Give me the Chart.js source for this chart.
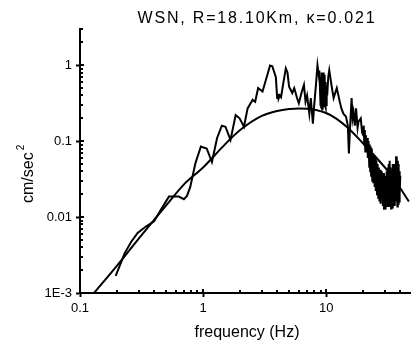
<!DOCTYPE html>
<html>
<head>
<meta charset="utf-8">
<script src="https://cdn.jsdelivr.net/npm/chart.js@4.4.1/dist/chart.umd.min.js"></script>
<style>
html, body { margin: 0; padding: 0; background: #fff; }
#wrap { width: 414px; height: 347px; }
</style>
</head>
<body>
<div id="wrap"><canvas id="myChart" width="414" height="347"></canvas></div>
<script>
const titleText = 'WSN, R=18.10Km, \u03ba=0.021';
const xTitle = 'frequency (Hz)';
const yTitle = 'cm/sec';

const xTickValues = [0.1, 1, 10];
const xTickLabels = ['0.1', '1', '10'];
const yTickValues = [0.001, 0.01, 0.1, 1];
const yTickLabels = ['1E-3', '0.01', '0.1', '1'];

// theoretical spectrum (smooth curve)
const modelFreq = [0.13, 0.2, 0.3, 0.4, 0.5, 0.7, 1, 1.5, 2, 3, 4, 5, 6, 7, 8, 10, 12, 15, 20, 25, 30, 40, 47];
const modelAmp = [0.001, 0.0023, 0.0052, 0.0092, 0.0142, 0.027, 0.045, 0.09, 0.14, 0.215, 0.25, 0.265, 0.27, 0.268, 0.26, 0.235, 0.2, 0.15, 0.093, 0.063, 0.045, 0.024, 0.016];

// observed spectrum
const obsFreq = [0.195, 0.23, 0.26, 0.294, 0.343, 0.4, 0.46, 0.528, 0.635, 0.698, 0.74, 0.787, 0.866, 0.96, 1.07, 1.18, 1.3, 1.42, 1.52, 1.67,
  1.84, 1.98, 2.15, 2.3, 2.53, 2.65, 2.8, 3.04, 3.3, 3.5, 3.65, 3.9, 4.0, 4.05, 4.1, 4.2, 4.3, 4.5, 4.7, 4.85,
  5.0, 5.3, 5.5, 5.8, 6.0, 6.3, 6.6, 6.8, 7.0, 7.3, 7.5, 7.8, 8.0, 8.3, 8.5, 8.7, 8.8,
  9.0, 9.05, 9.1, 9.15, 9.2, 9.25, 9.3, 9.35, 9.4, 9.45, 9.5, 9.55, 9.6, 9.65, 9.7, 9.75, 9.8, 9.85, 9.9, 9.95,
  10.0, 10.1, 10.2, 10.4, 10.6, 11.1, 11.5, 12.2, 12.9, 13.3, 13.8, 14.5, 15.0, 15.3, 15.6,
  16.1, 16.4, 16.7, 17.1, 17.5, 18.0, 18.3, 19.1, 19.6,
  20.0, 20.2, 20.4, 20.6, 20.8, 21.0, 21.3, 21.6, 21.8, 22.1, 22.4, 22.6, 22.8, 23.0, 23.2, 23.5, 23.7, 24.0, 24.2, 24.5,
  24.8, 25.0, 25.3, 25.6, 25.9, 26.2, 26.5, 26.8, 27.1, 27.4, 27.7, 28.0, 28.3, 28.6, 28.9, 29.2, 29.5, 29.8, 30.1, 30.4,
  30.7, 31.0, 31.3, 31.6, 31.9, 32.2, 32.5, 32.8, 33.1, 33.4, 33.7, 34.0, 34.3, 34.6, 34.9, 35.2, 35.5, 35.8, 36.1, 36.4,
  36.7, 37.0, 37.3, 37.6, 37.9, 38.2, 38.5, 38.8, 39.1, 39.4, 39.7, 40.0];
const obsAmp = [0.00168, 0.0033, 0.0047, 0.0062, 0.0075, 0.0088, 0.013, 0.0186, 0.0186, 0.0172, 0.019, 0.025, 0.051, 0.085, 0.08, 0.053, 0.11, 0.16, 0.155, 0.104,
  0.22, 0.2, 0.155, 0.27, 0.35, 0.33, 0.5, 0.45, 0.71, 0.99, 0.97, 0.7, 0.37, 0.42, 0.36, 0.4, 0.38, 0.6, 0.91, 0.8,
  0.52, 0.43, 0.5, 0.37, 0.315, 0.43, 0.55, 0.33, 0.4, 0.23, 0.37, 0.17, 0.3, 0.6, 1.0, 0.75, 0.85,
  0.3, 0.7, 0.28, 0.75, 0.27, 0.8, 0.3, 0.7, 0.26, 0.65, 0.3, 0.8, 0.28, 0.7, 0.32, 0.75, 0.3, 0.6, 0.28, 0.55,
  0.3, 0.5, 0.4, 0.7, 0.86, 0.52, 0.37, 0.5, 0.33, 0.27, 0.23, 0.21, 0.16, 0.069, 0.14,
  0.37, 0.2, 0.24, 0.16, 0.27, 0.15, 0.18, 0.2, 0.13,
  0.12, 0.16, 0.09, 0.14, 0.073, 0.12, 0.08, 0.11, 0.06, 0.1, 0.046, 0.09, 0.04, 0.085, 0.035, 0.08, 0.03, 0.07, 0.028, 0.065,
  0.025, 0.06, 0.022, 0.055, 0.02, 0.05, 0.018, 0.045, 0.016, 0.042, 0.015, 0.04, 0.018, 0.035, 0.014, 0.038, 0.0125, 0.03, 0.013, 0.035,
  0.018, 0.04, 0.014, 0.045, 0.016, 0.05, 0.014, 0.055, 0.015, 0.045, 0.013, 0.04, 0.016, 0.05, 0.013, 0.045, 0.015, 0.05, 0.014, 0.04,
  0.018, 0.063, 0.016, 0.05, 0.0138, 0.055, 0.015, 0.05, 0.016, 0.04, 0.02, 0.035];

const fontFamily = "'Liberation Sans', Arial, sans-serif";

function findLabel(v, values, labels) {
    for (let i = 0; i < values.length; i++) {
        if (Math.abs(Math.log10(v) - Math.log10(values[i])) < 1e-6) return labels[i];
    }
    return '';
}

function isNice(v) {
    let m = v / Math.pow(10, Math.floor(Math.log10(v) + 1e-9));
    return Math.abs(m - Math.round(m)) < 1e-6;
}

// short ticks pointing into the plot, like the original
const innerTicks = {
    id: 'innerTicks',
    afterDraw(chart) {
        const c = chart.ctx;
        const xs = chart.scales.x;
        const ys = chart.scales.y;
        const area = chart.chartArea;
        c.save();
        c.strokeStyle = '#000';
        c.lineWidth = 2;
        xs.ticks.forEach(t => {
            if (!isNice(t.value)) return;
            let px = Math.round(xs.getPixelForValue(t.value));
            let len = findLabel(t.value, xTickValues, xTickLabels) ? 4 : 3;
            c.beginPath();
            c.moveTo(px, area.bottom);
            c.lineTo(px, area.bottom - len);
            c.stroke();
        });
        ys.ticks.forEach(t => {
            if (!isNice(t.value)) return;
            let py = Math.round(ys.getPixelForValue(t.value));
            let len = findLabel(t.value, yTickValues, yTickLabels) ? 4 : 3;
            c.beginPath();
            c.moveTo(area.left, py);
            c.lineTo(area.left + len, py);
            c.stroke();
        });
        c.restore();
    }
};

const texts = {
    id: 'texts',
    afterDraw(chart) {
        const c = chart.ctx;
        c.save();
        c.fillStyle = '#000';
        c.font = '16px ' + fontFamily;
        c.textBaseline = 'alphabetic';
        c.textAlign = 'center';
        c.letterSpacing = '1.8px';
        c.fillText(titleText, 257, 23);
        c.letterSpacing = '0px';
        c.fillText(xTitle, 247, 337);
        c.translate(33, 203);
        c.rotate(-Math.PI / 2);
        c.textAlign = 'left';
        c.fillText(yTitle, 0, 0);
        let w = c.measureText(yTitle).width;
        c.font = '10px ' + fontFamily;
        c.fillText('2', w + 2, -9);
        c.restore();
    }
};

const ctx = document.getElementById('myChart');

const myChart = new Chart(ctx, {
    type: 'line',
    data: {
        datasets: [{
            label: 'observed',
            data: obsFreq.map((f, i) => ({ x: f, y: obsAmp[i] })),
            borderColor: '#000',
            borderWidth: 2,
            pointRadius: 0,
            tension: 0,
            fill: false
        }, {
            label: 'model',
            data: modelFreq.map((f, i) => ({ x: f, y: modelAmp[i] })),
            borderColor: '#000',
            borderWidth: 2,
            pointRadius: 0,
            cubicInterpolationMode: 'monotone',
            fill: false
        }]
    },
    options: {
        responsive: false,
        animation: false,
        events: [],
        layout: { padding: { top: 29, right: 0, left: 0, bottom: 0 } },
        plugins: {
            legend: { display: false },
            tooltip: { enabled: false }
        },
        scales: {
            x: {
                type: 'logarithmic',
                position: 'bottom',
                min: 0.1,
                max: 48,
                border: { display: true, color: '#000', width: 2 },
                grid: {
                    drawOnChartArea: false,
                    drawTicks: true,
                    tickLength: 4,
                    tickWidth: 2,
                    tickColor: c => findLabel(c.tick.value, xTickValues, xTickLabels) ? '#000' : 'rgba(0,0,0,0)'
                },
                ticks: {
                    autoSkip: false,
                    maxRotation: 0,
                    minRotation: 0,
                    padding: 4,
                    color: '#000',
                    font: { family: fontFamily, size: 13 },
                    callback: v => findLabel(v, xTickValues, xTickLabels)
                },
                afterFit: s => { s.height = 54; }
            },
            y: {
                type: 'logarithmic',
                position: 'left',
                min: 0.001,
                max: 3,
                border: { display: true, color: '#000', width: 2 },
                grid: {
                    drawOnChartArea: false,
                    drawTicks: true,
                    tickLength: 4,
                    tickWidth: 2,
                    tickColor: c => findLabel(c.tick.value, yTickValues, yTickLabels) ? '#000' : 'rgba(0,0,0,0)'
                },
                ticks: {
                    autoSkip: false,
                    padding: 4,
                    color: '#000',
                    font: { family: fontFamily, size: 13 },
                    callback: v => findLabel(v, yTickValues, yTickLabels)
                },
                afterFit: s => { s.width = 80; }
            }
        }
    },
    plugins: [innerTicks, texts]
});
</script>
</body>
</html>
